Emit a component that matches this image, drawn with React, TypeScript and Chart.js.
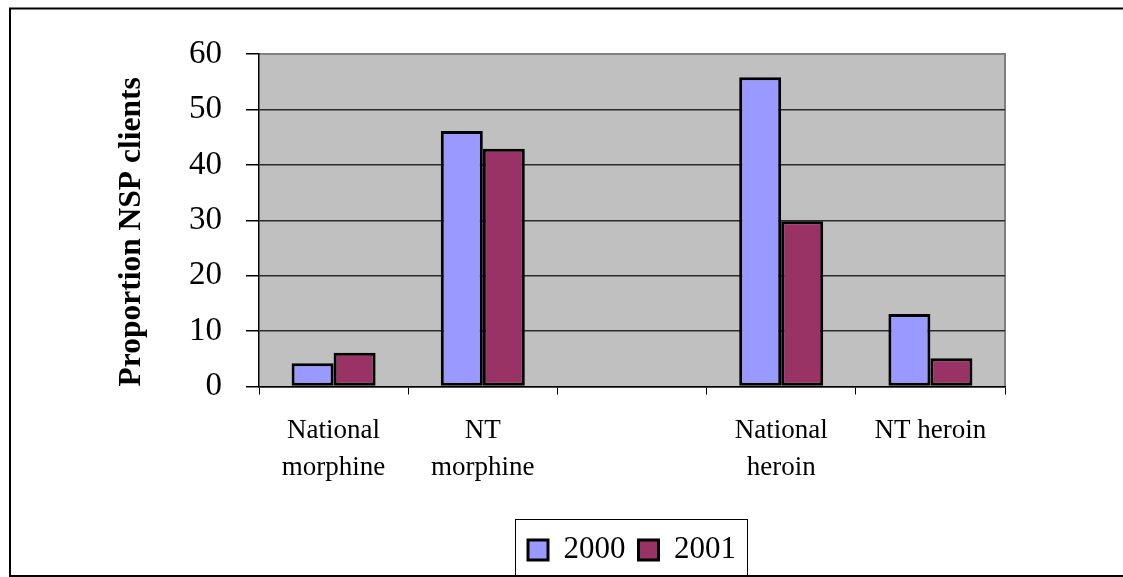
import React, { useEffect, useRef } from 'react';
import { Chart, registerables } from 'chart.js';

Chart.register(...registerables);

const categories: (string | string[])[] = [
  ['National', 'morphine'],
  ['NT', 'morphine'],
  '',
  ['National', 'heroin'],
  'NT heroin',
];
const series2000: (number | null)[] = [4.2, 46.1, null, 55.8, 13.1];
const series2001: (number | null)[] = [6.1, 42.9, null, 29.8, 5.1];
const seriesLabels = ['2000', '2001'];
const yMin = 0;
const yMax = 60;
const yStep = 10;

const FONT = '"Liberation Serif", "Times New Roman", serif';

const decorPlugin = {
  id: 'decor',
  beforeDraw(chart: any) {
    const { ctx, chartArea: a } = chart;
    ctx.save();
    ctx.fillStyle = '#ffffff';
    ctx.fillRect(0, 0, chart.width, chart.height);
    ctx.fillStyle = '#C0C0C0';
    ctx.fillRect(a.left, a.top, a.right - a.left, a.bottom - a.top);
    ctx.strokeStyle = '#808080';
    ctx.lineWidth = 2;
    ctx.beginPath();
    ctx.moveTo(a.left, a.top);
    ctx.lineTo(a.right, a.top);
    ctx.lineTo(a.right, a.bottom);
    ctx.stroke();
    ctx.restore();
  },
  afterDraw(chart: any) {
    const { ctx } = chart;
    ctx.save();
    const hb = chart.legend && chart.legend.legendHitBoxes;
    if (hb && hb.length) {
      const left = Math.min(...hb.map((h: any) => h.left)) - 13;
      const right = Math.max(...hb.map((h: any) => h.left + h.width)) + 11;
      const cy = hb[0].top + hb[0].height / 2;
      const top = cy - 31;
      ctx.strokeStyle = '#000';
      ctx.lineWidth = 1;
      ctx.strokeRect(Math.round(left) + 0.5, Math.round(top) + 0.5, Math.round(right - left), 80);
    }
    ctx.strokeStyle = '#000';
    ctx.lineWidth = 2;
    ctx.strokeRect(10, 8.5, 1200, 567.5);
    ctx.restore();
  },
};

export default function App() {
  const ref = useRef<HTMLCanvasElement>(null);
  useEffect(() => {
    if (!ref.current) return;
    const chart = new Chart(ref.current, {
      type: 'bar',
      data: {
        labels: categories,
        datasets: [
          {
            label: seriesLabels[0],
            data: series2000,
            backgroundColor: '#9999FF',
            borderColor: '#000',
            borderWidth: 3,
            borderSkipped: false,
          },
          {
            label: seriesLabels[1],
            data: series2001,
            backgroundColor: '#993366',
            borderColor: '#000',
            borderWidth: 3,
            borderSkipped: false,
          },
        ],
      },
      options: {
        responsive: false,
        animation: false,
        layout: { padding: { left: 110, right: 118, top: 54, bottom: 1.5 } },
        datasets: { bar: { barPercentage: 1, categoryPercentage: 0.563 } },
        plugins: {
          tooltip: { enabled: false },
          title: { display: false },
          legend: {
            position: 'bottom',
            fullSize: false,
            labels: {
              font: { family: FONT, size: 31 },
              color: '#000',
              boxWidth: 20,
              boxHeight: 20,
              padding: 13,
            },
          },
        },
        scales: {
          x: {
            afterFit: (s: any) => {
              s.height = 135;
            },
            grid: {
              offset: true,
              drawOnChartArea: false,
              drawTicks: true,
              tickLength: 8,
              color: '#000',
              tickColor: '#000',
              lineWidth: 1,
            },
            border: { display: true, color: '#000', width: 1.5 },
            ticks: {
              font: { family: FONT, size: 27, lineHeight: 1.36 },
              color: '#000',
              padding: 18,
              maxRotation: 0,
              autoSkip: false,
            },
          },
          y: {
            min: yMin,
            max: yMax,
            afterFit: (s: any) => {
              s.width = 149;
            },
            grid: {
              color: (c: any) => (c.tick && c.tick.value === yMax ? 'rgba(0,0,0,0)' : '#2a2a2a'),
              tickColor: '#000',
              tickLength: 13,
              lineWidth: 1.5,
            },
            border: { display: true, color: '#000', width: 1.5 },
            ticks: {
              stepSize: yStep,
              font: { family: FONT, size: 33 },
              color: '#000',
              padding: 24,
            },
            title: {
              display: true,
              text: 'Proportion NSP clients',
              align: 'start',
              color: '#000',
              font: { family: FONT, size: 31.5, weight: 'bold' },
              padding: { top: 3, bottom: 0 },
            },
          },
        },
      },
      plugins: [decorPlugin],
    } as any);
    return () => chart.destroy();
  }, []);
  return (
    <div style={{ position: 'fixed', left: 0, top: 0, width: 1123, height: 577, background: '#fff' }}>
      <canvas ref={ref} width={1123} height={577} style={{ display: 'block' }} />
    </div>
  );
}
